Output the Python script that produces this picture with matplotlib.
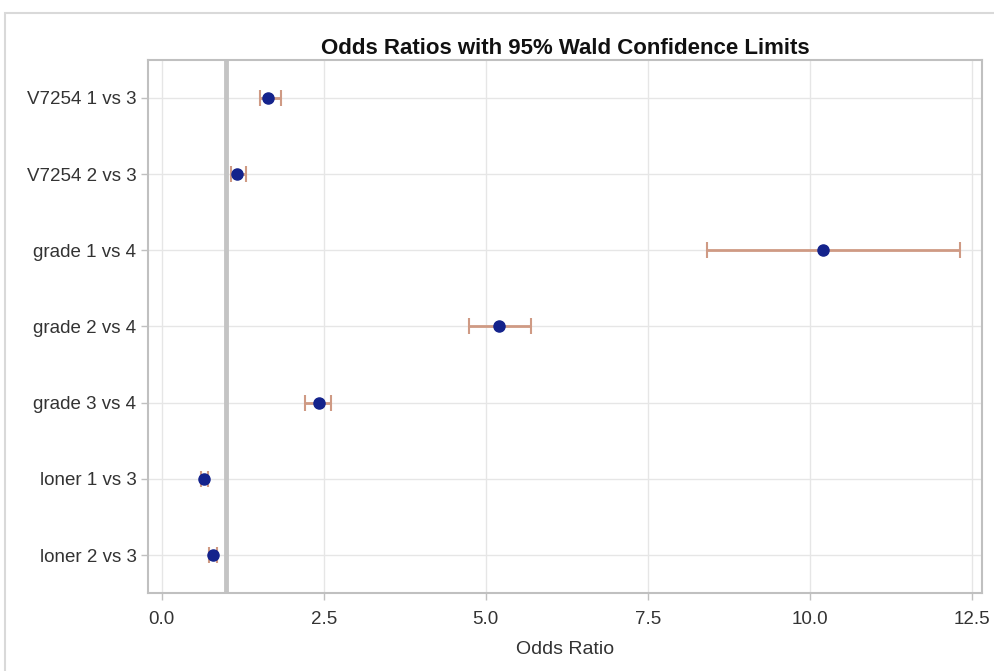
"""Odds ratio forest plot with 95% Wald confidence limits."""

import matplotlib
matplotlib.use("Agg")
import matplotlib.pyplot as plt
from matplotlib.patches import Rectangle

# Effects (top to bottom) and their estimates / limits
effects = ["V7254 1 vs 3", "V7254 2 vs 3", "grade 1 vs 4", "grade 2 vs 4",
           "grade 3 vs 4", "loner 1 vs 3", "loner 2 vs 3"]
odds_ratio = [1.64, 1.16, 10.21, 5.21, 2.43, 0.66, 0.79]
lower = [1.52, 1.07, 8.42, 4.74, 2.21, 0.60, 0.73]
upper = [1.84, 1.30, 12.32, 5.70, 2.62, 0.72, 0.86]
xticks = [0.0, 2.5, 5.0, 7.5, 10.0, 12.5]

plt.rcParams["font.family"] = ["Liberation Sans", "DejaVu Sans"]

fig = plt.figure(figsize=(9.95, 6.71), dpi=100)
ax = fig.add_axes([0.149, 0.116, 0.838, 0.795])

# light frame around the whole graph
fig.patches.append(Rectangle((0.005, -0.01), 1.0, 1 - 13 / 671 + 0.01,
                             transform=fig.transFigure, fill=False,
                             edgecolor="#d9d9d9", linewidth=1.5))

ypos = list(range(len(effects)))
xerr = [[o - l for o, l in zip(odds_ratio, lower)],
        [u - o for o, u in zip(odds_ratio, upper)]]

ax.axvline(1.0, color="#c4c4c4", linewidth=3.5, zorder=1)
ax.errorbar(odds_ratio, ypos, xerr=xerr, fmt="none", ecolor="#cf9a84",
            elinewidth=2, capsize=6, capthick=1.5, zorder=3)
ax.plot(odds_ratio, ypos, "o", color="#14238c", markersize=8, zorder=4)

ax.set_xlim(-0.207, 12.66)
ax.set_ylim(len(effects) - 0.5, -0.5)
ax.set_xticks(xticks)
ax.set_xticklabels([f"{t:.1f}" for t in xticks])
ax.set_yticks(ypos)
ax.set_yticklabels(effects)

ax.grid(True, color="#e6e6e6", linewidth=1)
ax.set_axisbelow(True)
for s in ax.spines.values():
    s.set_color("#c0c0c0")
    s.set_linewidth(1.5)
ax.tick_params(colors="#c0c0c0", labelcolor="#333333", labelsize=13.5,
               length=5, width=1)
ax.tick_params(axis="x", pad=8)

ax.set_xlabel("Odds Ratio", fontsize=14, color="#333333", labelpad=9)
ax.set_title("Odds Ratios with 95% Wald Confidence Limits",
             fontsize=16, fontweight="bold", color="#111111", pad=4)

fig.savefig("out.png", dpi=100)
